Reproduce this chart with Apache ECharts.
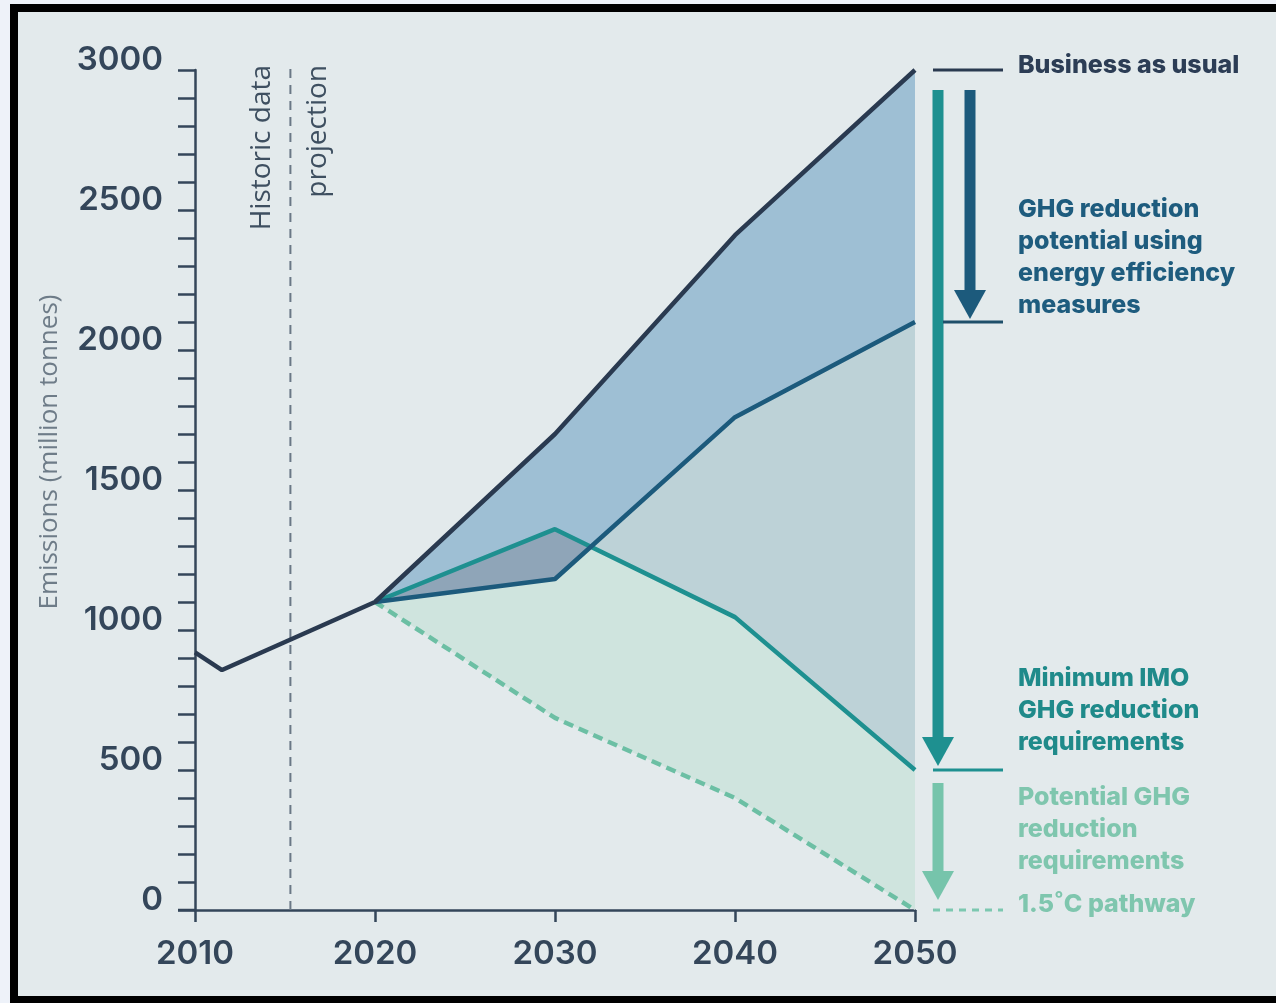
<!DOCTYPE html>
<html><head><meta charset="utf-8">
<script src="https://cdn.jsdelivr.net/npm/echarts@6/dist/echarts.min.js"></script>
<style>
html,body{margin:0;padding:0;width:1276px;height:1003px;background:#eef2f9;overflow:hidden}
#frame{position:absolute;left:10px;top:4px;width:1280px;height:984px;border-left:8px solid #000;border-top:8px solid #000;border-bottom:7px solid #000;background:#e3eaec}
#chart{position:absolute;left:0;top:0;width:1276px;height:1003px}
</style></head><body><div id="frame"></div><div id="chart"></div>
<script>
// ---- data ----
const years = [2020, 2030, 2040, 2050];
const historicYears = [2010, 2011.5, 2020];
const historicValues = [920, 857, 1100];
const businessAsUsual = [1100, 1700, 2410, 3000];
const energyEfficiency = [1100, 1182, 1760, 2100];
const minimumIMO = [1100, 1360, 1046, 500];
const pathway15 = [1100, 686, 400, 0];
const dividerYear = 2015.3;
const xTicks = [2010, 2020, 2030, 2040, 2050];
const yTicks = [0, 500, 1000, 1500, 2000, 2500, 3000];
const dividerLabels = ['Historic data', 'projection'];
const yAxisTitle = 'Emissions (million tonnes)';
const annBAU = 'Business as usual';
const annEff = 'GHG reduction\npotential using\nenergy efficiency\nmeasures';
const annIMO = 'Minimum IMO\nGHG reduction\nrequirements';
const annPot = 'Potential GHG\nreduction\nrequirements';
const annPath = '1.5˚C pathway';

// ---- colours ----
const C = {
  axis: '#34465a', bau: '#2a3a50', eff: '#1c5a7c', imo: '#1e9090', path: '#6cbfa4',
  blueFill: '#9ebfd4', grayFill: '#bdd2d7', mintFill: '#cfe4de', overlapFill: '#8fa5b8',
  txtBAU: '#2c3d55', txtEff: '#1e5c7e', txtIMO: '#1f8a8a', txtPot: '#7fc6ae'
};

const pairs = (xs, ys) => xs.map((x, i) => [x, ys[i]]);
const bauFull = pairs(historicYears, historicValues).concat(pairs(years.slice(1), businessAsUsual.slice(1)));

// split band between two lines into pieces with consistent sign
function bandPieces(xs, up, lo) {
  const pts = [];
  for (let i = 0; i < xs.length; i++) {
    pts.push([xs[i], up[i], lo[i]]);
    if (i < xs.length - 1) {
      const d0 = up[i] - lo[i], d1 = up[i + 1] - lo[i + 1];
      if (d0 * d1 < 0) {
        const t = d0 / (d0 - d1);
        const x = xs[i] + t * (xs[i + 1] - xs[i]);
        const v = up[i] + t * (up[i + 1] - up[i]);
        pts.push([x, v, v]);
      }
    }
  }
  const pieces = [];
  let cur = null;
  for (let i = 0; i < pts.length - 1; i++) {
    const mid = (pts[i][1] + pts[i + 1][1]) / 2 - (pts[i][2] + pts[i + 1][2]) / 2;
    const s = mid >= 0 ? 1 : -1;
    if (!cur || cur.sign !== s) { cur = { sign: s, pts: [pts[i]] }; pieces.push(cur); }
    cur.pts.push(pts[i + 1]);
  }
  return pieces;
}

function polyFor(api, piece, color) {
  const top = piece.pts.map(p => api.coord([p[0], p[1]]));
  const bot = piece.pts.slice().reverse().map(p => api.coord([p[0], p[2]]));
  return { type: 'polygon', shape: { points: top.concat(bot) }, style: { fill: color } };
}

const chart = echarts.init(document.getElementById('chart'), null, { renderer: 'canvas' });
const FONT = 'Inter';
chart.setOption({
  animation: false,
  backgroundColor: 'transparent',
  grid: { left: 195, top: 70, right: 361, bottom: 93, containLabel: false },
  xAxis: {
    type: 'value', min: 2010, max: 2050, interval: 10,
    axisLine: { show: true, lineStyle: { color: C.axis, width: 2.5 } },
    axisTick: { show: true, length: 12, lineStyle: { color: C.axis, width: 2.5 } },
    splitLine: { show: false },
    axisLabel: { margin: 28, color: C.axis, fontFamily: FONT, fontSize: 33, fontWeight: 600,
      formatter: v => xTicks.includes(v) ? String(v) : '' }
  },
  yAxis: {
    type: 'value', min: 0, max: 3000, interval: 500,
    axisLine: { show: true, lineStyle: { color: C.axis, width: 2.5 } },
    axisTick: { show: true, length: 17, lineStyle: { color: C.axis, width: 2.5 } },
    minorTick: { show: true, splitNumber: 5, length: 17, lineStyle: { color: C.axis, width: 2.5 } },
    splitLine: { show: false },
    axisLabel: { margin: 32, formatter: v => yTicks.includes(v) ? '{a|' + v + '}' : '',
      rich: { a: { color: C.axis, fontFamily: FONT, fontSize: 33, fontWeight: 600, padding: [0, 0, 20, 0] } } }
  },
  series: [
    {
      type: 'custom', z: 1, silent: true, clip: false,
      data: [[2020, 1100]],
      renderItem: function (params, api) {
        const children = [];
        bandPieces(years, minimumIMO, pathway15).forEach(p => children.push(polyFor(api, p, C.mintFill)));
        bandPieces(years, businessAsUsual, energyEfficiency).forEach(p => children.push(polyFor(api, p, C.blueFill)));
        bandPieces(years, energyEfficiency, minimumIMO).forEach(p => children.push(polyFor(api, p, p.sign > 0 ? C.grayFill : C.overlapFill)));
        return { type: 'group', children };
      }
    },
    { type: 'line', z: 3, clip: false, symbol: 'none', data: [[dividerYear, 0], [dividerYear, 3018]],
      lineStyle: { color: '#6a7886', width: 2, type: [9, 7] } },
    { type: 'line', z: 4, symbol: 'none', data: pairs(years, pathway15),
      lineStyle: { color: C.path, width: 4.5, type: [10, 6] } },
    { type: 'line', z: 5, symbol: 'none', data: pairs(years, minimumIMO),
      lineStyle: { color: C.imo, width: 4.5 } },
    { type: 'line', z: 6, symbol: 'none', data: pairs(years, energyEfficiency),
      lineStyle: { color: C.eff, width: 4.5 } },
    { type: 'line', z: 7, symbol: 'none', data: bauFull,
      lineStyle: { color: C.bau, width: 4.5 } }
  ]
});

// ---- annotations placed from the axis scales ----
const px = (x, y) => chart.convertToPixel({ gridIndex: 0 }, [x, y]);
const last = a => a[a.length - 1];
const xEnd = px(last(years), 0)[0];
const yBAU = px(last(years), last(businessAsUsual))[1];
const yEff = px(last(years), last(energyEfficiency))[1];
const yIMO = px(last(years), last(minimumIMO))[1];
const yPath = px(last(years), last(pathway15))[1];
const xDiv = px(dividerYear, 0)[0];
const yTop = px(2010, 3000)[1];
const yZero = px(2010, 0)[1];
const xAxis0 = px(2010, 0)[0];

const aX1 = xEnd + 23, aX2 = xEnd + 55, lnL = xEnd + 18, lnR = xEnd + 88, txtX = xEnd + 103;
function arrow(cx, y0, yTip, color) {
  const headH = 29, headW = 32, shaftW = 11;
  return [
    { type: 'rect', shape: { x: cx - shaftW / 2, y: y0, width: shaftW, height: yTip - headH - y0 + 1 }, style: { fill: color } },
    { type: 'polygon', shape: { points: [[cx - headW / 2, yTip - headH], [cx + headW / 2, yTip - headH], [cx, yTip]] }, style: { fill: color } }
  ];
}
function txt(x, y, text, color, opts) {
  return Object.assign({ type: 'text', x, y, style: Object.assign({ text, fill: color, font: '800 25px ' + FONT,
    lineHeight: 32, align: 'left', verticalAlign: 'top' }, opts || {}) });
}
const g = [];
g.push({ type: 'line', shape: { x1: xAxis0 - 17, y1: yZero, x2: xAxis0, y2: yZero }, style: { stroke: C.axis, lineWidth: 2.5 } });
g.push(...arrow(aX1, yBAU + 20, yIMO - 4, C.imo));
g.push(...arrow(aX2, yBAU + 20, yEff - 3, C.eff));
g.push(...arrow(aX1, yIMO + 13, yPath - 10, '#76c4ab'));
g.push({ type: 'line', shape: { x1: lnL, y1: yBAU, x2: lnR, y2: yBAU }, style: { stroke: C.bau, lineWidth: 3 } });
g.push({ type: 'line', shape: { x1: aX1 + 5, y1: yEff, x2: lnR, y2: yEff }, style: { stroke: '#1e4f6a', lineWidth: 3 } });
g.push({ type: 'line', shape: { x1: lnL, y1: yIMO, x2: lnR, y2: yIMO }, style: { stroke: C.imo, lineWidth: 3 } });
g.push({ type: 'line', shape: { x1: lnL, y1: yPath, x2: lnR, y2: yPath }, style: { stroke: '#7cc8b0', lineWidth: 3, lineDash: [7, 6] } });
g.push(txt(txtX, yBAU - 21, annBAU, C.txtBAU));
g.push(txt(txtX, yEff - 129, annEff, C.txtEff));
g.push(txt(txtX, yIMO - 108, annIMO, C.txtIMO));
g.push(txt(txtX, yIMO + 11, annPot, C.txtPot));
g.push(txt(txtX, yPath - 22, annPath, C.txtPot));
// divider labels
g.push({ type: 'text', x: xDiv - 28, y: yTop - 5, rotation: Math.PI / 2,
  style: { text: dividerLabels[0], fill: '#3e4f60', font: '400 28px "Open Sans"', align: 'right', verticalAlign: 'middle' } });
g.push({ type: 'text', x: xDiv + 28, y: yTop - 5, rotation: Math.PI / 2,
  style: { text: dividerLabels[1], fill: '#3e4f60', font: '400 28px "Open Sans"', align: 'right', verticalAlign: 'middle' } });
// y axis title
g.push({ type: 'text', x: 50, y: 452, rotation: Math.PI / 2,
  style: { text: yAxisTitle, fill: '#6e7c88', font: '400 26px "Open Sans"', align: 'center', verticalAlign: 'middle' } });
chart.setOption({ graphic: g });
</script></body></html>
